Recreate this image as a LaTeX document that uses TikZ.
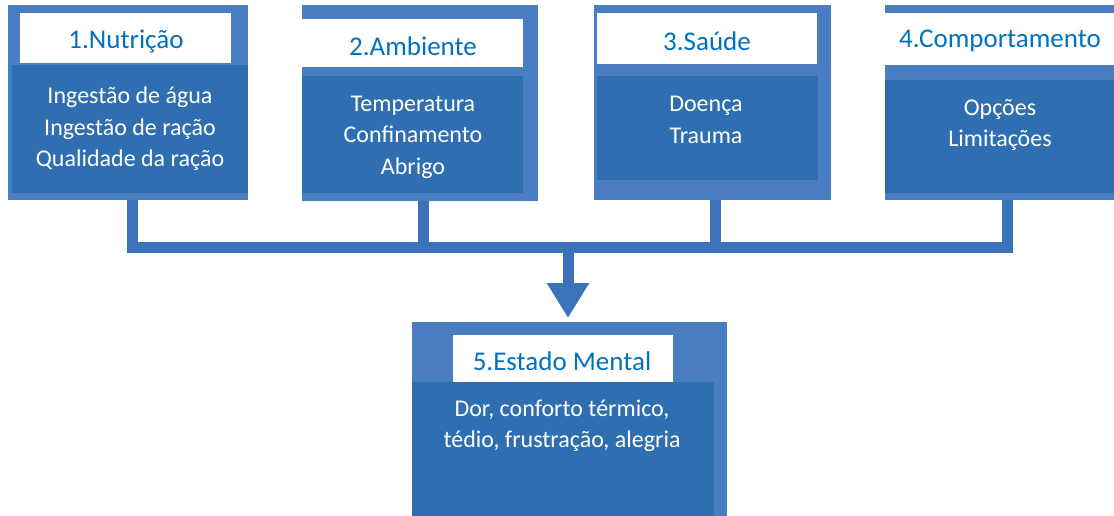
\documentclass[tikz,border=0pt]{standalone}
\usepackage{fontspec}
\setmainfont{Carlito}
\usetikzlibrary{arrows.meta}
\definecolor{framec}{HTML}{4A7EC3}
\definecolor{innerc}{HTML}{2F6FB1}
\definecolor{busc}{HTML}{3B72B9}
\definecolor{titlec}{HTML}{0070C0}
\tikzset{
  framebox/.style={draw=none, fill=framec, inner sep=0pt, anchor=north west},
  titlebox/.style={draw=none, fill=white, inner sep=0pt, anchor=north west},
  innerbox/.style={draw=none, fill=innerc, inner sep=0pt, anchor=north west},
  titletext/.style={text=titlec, font=\fontsize{27}{30}\selectfont, inner sep=0pt},
  bodytext/.style={text=white, align=center, font=\fontsize{24}{31.5}\selectfont, inner sep=0pt},
  bus/.style={draw=busc, line width=11pt, line join=miter},
}
\begin{document}
\begin{tikzpicture}[x=1pt,y=-1pt]
\path[use as bounding box, fill=white] (0,0) rectangle (1114,516);
\begin{scope}
\clip (0,0) rectangle (1114,516);
% Box 1
\node[framebox, minimum width=240pt, minimum height=195pt] (f1) at (8,5) {};
\node[innerbox, minimum width=236pt, minimum height=128pt] (i1) at (12,65) {};
\node[titlebox, minimum width=211pt, minimum height=50pt] (t1) at (20,13) {};
\node[titletext] (tt1) at (126,41) {1.Nutrição};
\node[bodytext] (b1) at (130,129) {Ingestão de água\\Ingestão de ração\\Qualidade da ração};
% Box 2
\node[framebox, minimum width=236pt, minimum height=196pt] (f2) at (302,5) {};
\node[innerbox, minimum width=221pt, minimum height=117pt] (i2) at (302,76) {};
\node[titlebox, minimum width=221pt, minimum height=48pt] (t2) at (302,19) {};
\node[titletext] (tt2) at (413,46) {2.Ambiente};
\node[bodytext] (b2) at (413,137) {Temperatura\\Confinamento\\Abrigo};
% Box 3
\node[framebox, minimum width=237pt, minimum height=195pt] (f3) at (594,5) {};
\node[innerbox, minimum width=221pt, minimum height=104pt] (i3) at (597,76) {};
\node[titlebox, minimum width=220pt, minimum height=51pt] (t3) at (597,13) {};
\node[titletext] (tt3) at (707,41) {3.Saúde};
\node[bodytext] (b3) at (706,120) {Doença\\Trauma};
% Box 4
\node[framebox, minimum width=240pt, minimum height=195pt] (f4) at (885,5) {};
\node[innerbox, minimum width=240pt, minimum height=113pt] (i4) at (885,80) {};
\node[titlebox, minimum width=240pt, minimum height=52pt] (t4) at (885,13) {};
\node[titletext] (tt4) at (1000,41) {4.Comportamento};
\node[bodytext] (b4) at (1000,125) {Opções\\Limitações};
% Box 5
\node[framebox, minimum width=315pt, minimum height=200pt] (f5) at (412,322) {};
\node[innerbox, minimum width=302pt, minimum height=140pt] (i5) at (412,382) {};
\node[titlebox, minimum width=220pt, minimum height=47pt] (t5) at (453,335) {};
\node[titletext] (tt5) at (562,361) {5.Estado Mental};
\node[bodytext] (b5) at (562,426) {Dor, conforto térmico,\\tédio, frustração, alegria};
% Connectors
\coordinate (j1) at (132,247.5);
\coordinate (j2) at (423,247.5);
\coordinate (j3) at (715,247.5);
\coordinate (j4) at (1007,247.5);
\coordinate (jm) at (568,247.5);
\draw[bus] (j1 |- f1.south) -- (j1) -- (j4) -- (j4 |- f4.south);
\draw[bus] (j2 |- f2.south) -- (j2);
\draw[bus] (j3 |- f3.south) -- (j3);
\draw[bus, -{Triangle[width=40pt,length=35pt]}, shorten >=4pt] (jm) -- (jm |- f5.north);
\end{scope}
\end{tikzpicture}
\end{document}
